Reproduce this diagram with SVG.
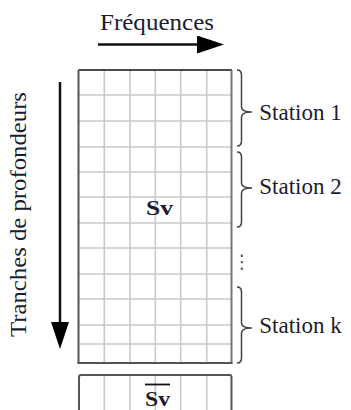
<svg xmlns="http://www.w3.org/2000/svg" width="351" height="410" viewBox="0 0 351 410">
<style>
.lbl{font-family:"Liberation Serif","Times New Roman",serif;font-size:23px;fill:#1c1c30}
.sv{font-family:"Liberation Serif","Times New Roman",serif;font-size:20px;font-weight:bold;fill:#1c1c30}
.gl{stroke:#c9c9c9;stroke-width:1.6;fill:none}
.brace{stroke:#444;stroke-width:1.5;fill:none}
.arr{stroke:#111;stroke-width:2.5;fill:none}
</style>
<defs>
<marker id="ah" markerUnits="userSpaceOnUse" markerWidth="27" markerHeight="18" viewBox="0 0 27 18" refX="0" refY="9" orient="auto">
<path d="M0,0 L27,9 L0,18 z" fill="#000"/>
</marker>
</defs>
<rect width="351" height="410" fill="#fff"/>

<g id="connectors">
<line class="arr" x1="98" y1="44.5" x2="197" y2="44.5" marker-end="url(#ah)"/>
<line class="arr" x1="60" y1="82" x2="60" y2="322" marker-end="url(#ah)"/>
</g>

<g id="freq-label">
<text class="lbl" x="100" y="30" textLength="114" lengthAdjust="spacingAndGlyphs">Fréquences</text>
</g>

<g id="depth-label">
<text class="lbl" transform="translate(26,337) rotate(-90)" x="0" y="0" textLength="245" lengthAdjust="spacingAndGlyphs">Tranches de profondeurs</text>
</g>

<g id="sv-matrix">
<path class="gl" d="M104.3,70V363M130,70V363M155.3,70V363M180.7,70V363M206.7,70V363"/>
<path class="gl" d="M79,95H231M79,121H231M79,147H231M79,172H231M79,197H231M79,223H231M79,248H231M79,274H231M79,299H231M79,325H231M79,344H231"/>
<line x1="78.5" y1="70" x2="232" y2="70" stroke="#111" stroke-width="1.6"/>
<line x1="78.5" y1="70" x2="78.5" y2="363" stroke="#555" stroke-width="2"/>
<line x1="231.5" y1="70" x2="231.5" y2="363" stroke="#777" stroke-width="2"/>
<line x1="77.5" y1="363" x2="232.5" y2="363" stroke="#555" stroke-width="2"/>
<text class="sv" x="146" y="215" textLength="27" lengthAdjust="spacingAndGlyphs">Sv</text>
</g>

<g id="station-1">
<path class="brace" d="M237,70 Q241.5,70 241.5,75 L241.5,107 Q241.5,112 252,112 Q241.5,112 241.5,117 L241.5,141 Q241.5,146 237,146"/>
<text class="lbl" x="259.3" y="120">Station 1</text>
</g>

<g id="station-2">
<path class="brace" d="M237,152 Q241.5,152 241.5,157 L241.5,183 Q241.5,188 252,188 Q241.5,188 241.5,193 L241.5,222 Q241.5,227 237,227"/>
<text class="lbl" x="259.3" y="194">Station 2</text>
</g>

<g id="ellipsis">
<text x="242" y="268" text-anchor="middle" style="font-family:'DejaVu Sans',sans-serif;font-size:19px;fill:#555">⋮</text>
</g>

<g id="station-k">
<path class="brace" d="M237,287 Q241.5,287 241.5,292 L241.5,323 Q241.5,328 252,328 Q241.5,328 241.5,333 L241.5,358 Q241.5,363 237,363"/>
<text class="lbl" x="259.3" y="333">Station k</text>
</g>

<g id="sv-mean">
<path class="gl" d="M104.3,375V412M130,375V412M155.3,375V412M180.7,375V412M206.7,375V412"/>
<rect x="79" y="375" width="152.5" height="45" rx="2" fill="none" stroke="#555" stroke-width="2"/>
<line x1="145" y1="384.5" x2="170" y2="384.5" stroke="#111" stroke-width="1.8"/>
<text class="sv" x="145" y="406" textLength="25" lengthAdjust="spacingAndGlyphs">Sv</text>
</g>
</svg>
